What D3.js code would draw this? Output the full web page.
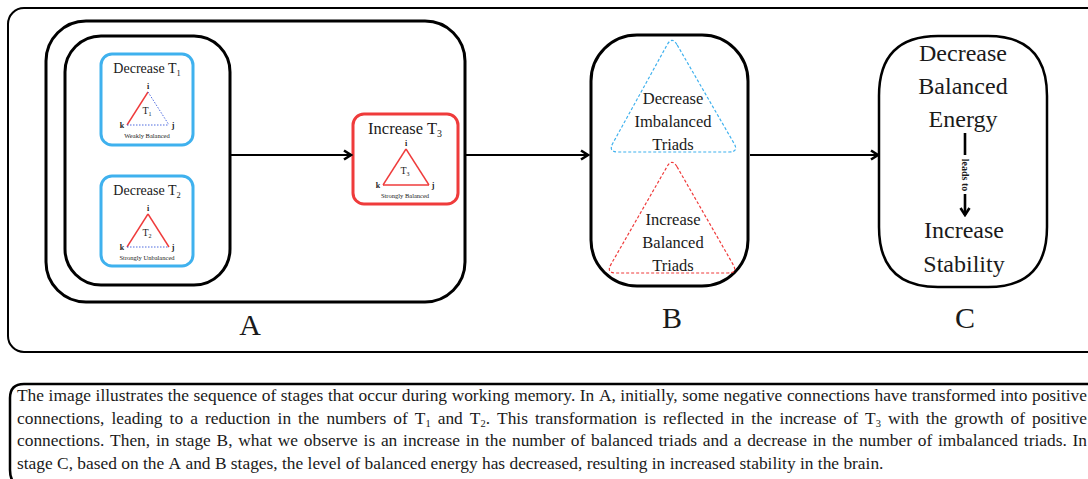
<!DOCTYPE html>
<html>
<head>
<meta charset="utf-8">
<script src="https://cdn.jsdelivr.net/npm/d3@7"></script>
<style>
  body { margin: 0; background: #fff; overflow: hidden; }
  svg text { font-family: "Liberation Serif", "Times New Roman", "DejaVu Serif", serif; }
</style>
</head>
<body>
<svg id="chart" width="1088" height="479"></svg>
<script>
const stageLabels = ["A", "B", "C"];
const triadTitles = [["Decrease ", "1"], ["Decrease ", "2"], ["Increase ", "3"]];
const triadNotes = ["Weakly Balanced", "Strongly Unbalanced", "Strongly Balanced"];
// edge styles per triad: [k-i, i-j, k-j], true = positive (red solid)
const triadEdges = [[true, false, false], [true, true, false], [true, true, true]];
const bTexts = [["Decrease", "Imbalanced", "Triads"], ["Increase", "Balanced", "Triads"]];
const cTop = ["Decrease", "Balanced", "Energy"];
const cBottom = ["Increase", "Stability"];
const captionLines = [
  ["The image illustrates the sequence of stages that occur during working memory. In A, initially, some negative connections have transformed into positive", true],
  ["connections, leading to a reduction in the numbers of T|1 and T|2. This transformation is reflected in the increase of T|3 with the growth of positive", true],
  ["connections. Then, in stage B, what we observe is an increase in the number of balanced triads and a decrease in the number of imbalanced triads. In", true],
  ["stage C, based on the A and B stages, the level of balanced energy has decreased, resulting in increased stability in the brain.", false]
];

const BLUE = "#3fb1ee", RED = "#ef3b3b";
const FONT = "Liberation Serif";
const svg = d3.select("#chart");

const defs = svg.append("defs");
defs.append("marker").attr("id", "arr").attr("viewBox", "0 0 12 12")
  .attr("refX", 10).attr("refY", 6).attr("markerWidth", 12).attr("markerHeight", 12)
  .attr("markerUnits", "userSpaceOnUse").attr("orient", "auto")
  .append("path").attr("d", "M3,1.5 L10,6 L3,10.5").attr("fill", "none")
  .attr("stroke", "#000").attr("stroke-width", 2.6);

function rbox(x, y, w, h, r, stroke, sw) {
  return svg.append("rect").attr("x", x).attr("y", y).attr("width", w).attr("height", h)
    .attr("rx", r).attr("ry", r).attr("fill", "none").attr("stroke", stroke).attr("stroke-width", sw);
}

function txt(x, y, s, size) {
  return svg.append("text").attr("x", x).attr("y", y).attr("font-family", FONT)
    .attr("font-size", size).attr("fill", "#1a1a1a").text(s);
}

// rounded polygon
function roundedTri(pts, r) {
  const n = pts.length;
  let d = "";
  for (let i = 0; i < n; i++) {
    const p0 = pts[(i - 1 + n) % n], p1 = pts[i], p2 = pts[(i + 1) % n];
    const v1 = [p0[0] - p1[0], p0[1] - p1[1]], v2 = [p2[0] - p1[0], p2[1] - p1[1]];
    const l1 = Math.hypot(...v1), l2 = Math.hypot(...v2);
    const a = [p1[0] + v1[0] / l1 * r, p1[1] + v1[1] / l1 * r];
    const b = [p1[0] + v2[0] / l2 * r, p1[1] + v2[1] / l2 * r];
    d += (i === 0 ? "M" : "L") + a[0] + "," + a[1] + " Q" + p1[0] + "," + p1[1] + " " + b[0] + "," + b[1];
  }
  return d + "Z";
}

// outer frames
rbox(8, 8, 1110, 344, 16, "#000", 2);
rbox(46, 21, 419, 281, 40, "#000", 3);
rbox(65, 36, 165, 249, 36, "#000", 3);

// triads in stage A
const triadBoxes = [
  { x: 101, y: 54, w: 92, h: 91, c: BLUE, fs: 14, cx: 147 },
  { x: 101, y: 176, w: 92, h: 90, c: BLUE, fs: 14, cx: 147 },
  { x: 353, y: 114, w: 105, h: 90, c: RED, fs: 16.5, cx: 405 }
];
triadBoxes.forEach((b, i) => {
  rbox(b.x, b.y, b.w, b.h, 11, b.c, 3);
  const big = i === 2;
  const top = b.y + (big ? 35 : 38), base = b.y + 71;
  const half = big ? 22 : 20;
  const apex = [b.cx + 1, top], k = [b.cx - half, base], j = [b.cx + half + 2, base];
  const edges = [[k, apex], [apex, j], [k, j]];
  edges.forEach((e, ei) => {
    const pos = triadEdges[i][ei];
    svg.append("line").attr("x1", e[0][0]).attr("y1", e[0][1]).attr("x2", e[1][0]).attr("y2", e[1][1])
      .attr("stroke", pos ? RED : "#3b5bdb").attr("stroke-width", pos ? 1.4 : 0.9)
      .attr("stroke-dasharray", pos ? null : "1.5,1.5");
  });
  const t = txt(b.cx, b.y + (big ? 20 : 19), null, b.fs).attr("text-anchor", "middle");
  t.append("tspan").text(triadTitles[i][0] + "T");
  t.append("tspan").attr("font-size", b.fs * 0.6).attr("dy", 3).text(triadTitles[i][1]);
  txt(apex[0], top - 3, "i", 8).attr("text-anchor", "middle").attr("font-weight", "bold");
  txt(k[0] - 5, base + 3, "k", 8).attr("text-anchor", "middle").attr("font-weight", "bold");
  txt(j[0] + 4, base + 3, "j", 8).attr("text-anchor", "middle").attr("font-weight", "bold");
  const tt = txt(b.cx, base - 11, null, 10).attr("text-anchor", "middle");
  tt.append("tspan").text("T");
  tt.append("tspan").attr("font-size", 6).attr("dy", 2).text(triadTitles[i][1]);
  txt(b.cx, base + 13, triadNotes[i], 6.5).attr("text-anchor", "middle");
});

// arrows between stages
const arrows = [[230, 351], [465, 588], [750, 878]];
arrows.forEach(a => {
  svg.append("line").attr("x1", a[0]).attr("y1", 155).attr("x2", a[1]).attr("y2", 155)
    .attr("stroke", "#000").attr("stroke-width", 2.2).attr("marker-end", "url(#arr)");
});

// stage B
rbox(591, 35, 157, 251, 46, "#000", 3);
const triB = [
  { pts: [[672, 36], [608, 152], [739, 152]], c: BLUE, y0: 104 },
  { pts: [[672, 158], [606, 273], [738, 273]], c: RED, y0: 225 }
];
triB.forEach((t, i) => {
  svg.append("path").attr("d", roundedTri(t.pts, 10)).attr("fill", "none")
    .attr("stroke", t.c).attr("stroke-width", 1.2).attr("stroke-dasharray", "3,2");
  bTexts[i].forEach((s, li) => {
    txt(673, t.y0 + li * 23, s, 16.5).attr("text-anchor", "middle");
  });
});

// stage C
svg.append("path").attr("fill", "none").attr("stroke", "#000").attr("stroke-width", 2.5)
  .attr("d", "M938,36 L988,36 Q1047,36 1047,96 L1047,227 Q1047,287 988,287 L938,287 Q879,287 879,227 L879,96 Q879,36 938,36 Z");
cTop.forEach((s, i) => {
  txt(963, 61 + i * 33, s, 24).attr("text-anchor", "middle");
});
cBottom.forEach((s, i) => {
  txt(964, 238 + i * 34, s, 24).attr("text-anchor", "middle");
});
svg.append("line").attr("x1", 965).attr("y1", 133).attr("x2", 965).attr("y2", 155)
  .attr("stroke", "#000").attr("stroke-width", 2.6);
svg.append("line").attr("x1", 965).attr("y1", 194).attr("x2", 965).attr("y2", 215)
  .attr("stroke", "#000").attr("stroke-width", 2.6).attr("marker-end", "url(#arr)");
txt(0, 0, "leads to", 10).attr("transform", "translate(962,175) rotate(90)")
  .attr("x", null).attr("y", null).attr("text-anchor", "middle").attr("font-weight", "bold");

// stage labels
const labelPos = [[250, 335], [672, 328], [965, 328]];
stageLabels.forEach((s, i) => {
  txt(labelPos[i][0], labelPos[i][1], s, 30).attr("text-anchor", "middle");
});

// caption box
svg.append("path").attr("fill", "none").attr("stroke", "#000").attr("stroke-width", 2.5)
  .attr("d", "M1100,384 L24,384 Q10,384 10,398 L10,470 Q10,486 24,486 L1100,486");

const x0 = 17, x1 = 1087;
// fit the font size so the first justified line has ordinary word spacing
const probe = txt(0, -50, captionLines[0][0], 15);
const fs = 15 * (x1 - x0) / probe.node().getComputedTextLength() * 0.995;
probe.remove();
captionLines.forEach((ln, li) => {
  const y = 401 + li * 22.5;
  const words = ln[0].split(" ");
  const nodes = words.map(w => {
    const t = txt(0, y, null, fs);
    w.split("|").forEach((part, pi) => {
      if (pi === 0) t.append("tspan").text(part);
      else {
        t.append("tspan").attr("font-size", fs * 0.6).attr("dy", 3).text(part[0]);
        if (part.length > 1) t.append("tspan").attr("dy", -3).text(part.slice(1));
      }
    });
    return t;
  });
  const widths = nodes.map(n => n.node().getComputedTextLength());
  const total = d3.sum(widths);
  const gap = ln[1] ? (x1 - x0 - total) / (words.length - 1) : fs * 0.25;
  let x = x0;
  nodes.forEach((n, i) => { n.attr("x", x); x += widths[i] + gap; });
});
</script>
</body>
</html>
